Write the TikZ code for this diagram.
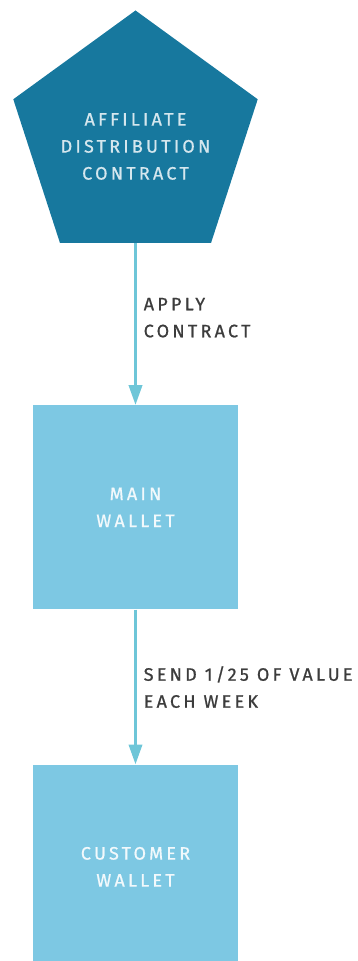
\documentclass[tikz,border=0pt]{standalone}
\usepackage{fontspec}
\setmainfont{Fira Sans}
\newfontfamily\dinfont[LetterSpace=18,FakeBold=0.8]{Fira Sans}
\usetikzlibrary{shapes.geometric,arrows.meta,positioning}
\definecolor{contractblue}{HTML}{17789E}
\definecolor{walletblue}{HTML}{7DC8E3}
\definecolor{flowblue}{HTML}{6EC6D8}
\definecolor{labelgray}{HTML}{3C3C3C}
\begin{document}
\begin{tikzpicture}[x=1pt,y=1pt,
    wallet/.style={rectangle,fill=walletblue,minimum width=205pt,minimum height=204pt,text=white!90!walletblue},
    flow/.style={draw=flowblue,line width=3.5pt,-{Triangle[length=20pt,width=13pt]}},
    steplabel/.style={anchor=west,text=labelgray,align=left,xshift=6.5pt}]
\tikzset{every node/.style={font=\dinfont\fontsize{18}{27}\selectfont,inner sep=0pt,align=center}}
%\tikzset{every node/.style={font=\sffamily\bfseries,
%                            text=white}}
\clip (0,0) rectangle (357,961);
\node[regular polygon,regular polygon sides=5,minimum size=257pt,fill=contractblue] (contract) at (135.5,822) {};
\node[text=white!82!contractblue] (contractname) at ([yshift=-7.5pt]contract.center) {AFFILIATE\\DISTRIBUTION\\CONTRACT};
\node[wallet,below=162pt of contract.south] (main) {MAIN\\WALLET};
\node[wallet,below=155pt of main] (customer) {CUSTOMER\\WALLET};
\draw[flow] (contract.south) -- node[steplabel,midway,yshift=6.5pt] {APPLY\\CONTRACT} (main.north);
\draw[flow] (main.south) -- node[steplabel,midway] {SEND 1/25 OF VALUE\\EACH WEEK} (customer.north);
\end{tikzpicture}
\end{document}
